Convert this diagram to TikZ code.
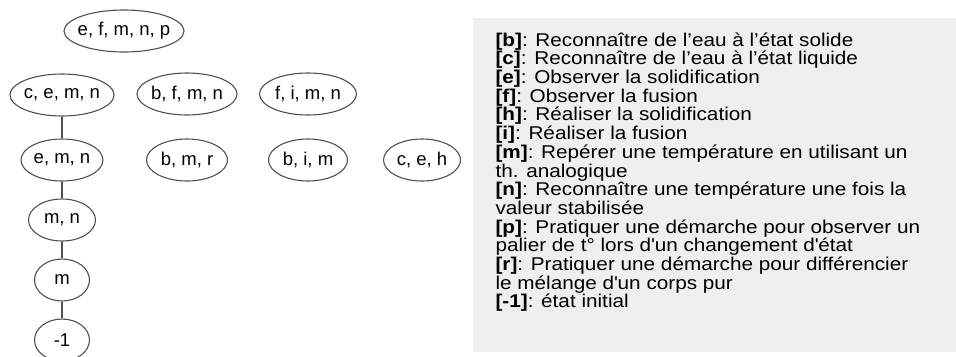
\documentclass[tikz,border=0pt]{standalone}
\usepackage{fontspec}
\setmainfont{Liberation Sans}
\newfontfamily\legendfont{Liberation Sans}[FakeStretch=1.12]
\usetikzlibrary{shapes.geometric,positioning}
\definecolor{legendgray}{RGB}{239,239,239}
\definecolor{linegray}{RGB}{80,80,80}

\begin{document}
\begin{tikzpicture}[x=1bp,y=-1bp,node distance=60bp,line width=1.1bp,
  set node/.style={ellipse,draw=linegray,inner xsep=-5bp,minimum height=42bp,
    font=\fontsize{18.5bp}{18.5bp}\selectfont},
  legend text/.style={anchor=north west,inner sep=0pt,align=left,
    font=\legendfont\fontsize{18.5bp}{18.7bp}\selectfont\setlength{\lineskiplimit}{-20bp}}]

  \useasboundingbox (0,0) rectangle (956,356);

  \node[set node,minimum width=120bp] (efmnp) at (124,31) {e, f, m, n, p};
  \node[set node,minimum width=104bp] (cemn) at (62,95) {c, e, m, n};
  \node[set node,minimum width=100bp] (bfmn) at (187,94) {b, f, m, n};
  \node[set node,minimum width=97bp] (fimn) at (308,94) {f, i, m, n};
  \node[set node,minimum width=82bp] (emn) [below of=cemn,node distance=65bp] {e, m, n};
  \node[set node,minimum width=81bp] (bmr) [below of=bfmn,node distance=66bp] {b, m, r};
  \node[set node,minimum width=79bp] (bim) [below of=fimn,node distance=66bp] {b, i, m};
  \node[set node,minimum width=77bp] (ceh) at (422,160) {c, e, h};
  \node[set node,minimum width=67bp] (mn) [below of=emn] {m, n};
  \node[set node,minimum width=55bp] (m) [below of=mn] {m};
  \node[set node,minimum width=55bp] (init) [below of=m] {-1};

  \path[every edge/.style={draw=linegray}]
    (cemn) edge (emn)
    (emn) edge (mn)
    (mn) edge (m)
    (m) edge (init);

  % legend
  \fill[legendgray] (473,18) rectangle (956,352);
  \node[legend text] (legend) at (495,32) {%
    \textbf{[b]}: Reconnaître de l’eau à l’état solide\\
    \textbf{[c]}: Reconnaître de l’eau à l’état liquide\\
    \textbf{[e]}: Observer la solidification\\
    \textbf{[f]}: Observer la fusion\\
    \textbf{[h]}: Réaliser la solidification\\
    \textbf{[i]}: Réaliser la fusion\\
    \textbf{[m]}: Repérer une température en utilisant un\\
    th. analogique\\
    \textbf{[n]}: Reconnaître une température une fois la\\
    valeur stabilisée\\
    \textbf{[p]}: Pratiquer une démarche pour observer un\\
    palier de t° lors d\textquotesingle un changement d\textquotesingle état\\
    \textbf{[r]}: Pratiquer une démarche pour différencier\\
    le mélange d\textquotesingle un corps pur\\
    \textbf{[-1]}: état initial};
\end{tikzpicture}
\end{document}
